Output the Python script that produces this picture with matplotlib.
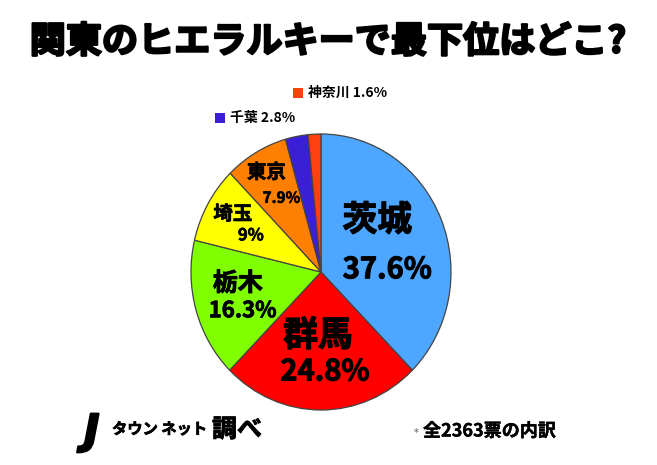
import numpy as np
import matplotlib
matplotlib.use('Agg')
from matplotlib import pyplot as plt
from matplotlib import patheffects
from matplotlib.patches import Rectangle

plt.rcParams['font.family'] = ['Noto Sans CJK JP', 'DejaVu Sans']

# Data (clockwise from 12 o'clock).
prefectures = ['茨城', '群馬', '栃木', '埼玉', '東京', '千葉', '神奈川']
shares = [37.6, 24.8, 16.3, 9.0, 7.9, 2.8, 1.6]
pct_labels = ['37.6%', '24.8%', '16.3%', '9%', '7.9%', '2.8%', '1.6%']
colors = ['#4da6ff', '#ff0000', '#80ff00', '#ffff00', '#ff8000', '#3a1fd6', '#ff4010']
title = '関東のヒエラルキーで最下位はどこ?'
total_note = '全2363票の内訳'
source = 'タウン ネット'

# Styling for in-wedge labels: radial distance, name size, pct size,
# name offset and pct offset in pixels.
label_style = [
    (0.51, 25, 21, (-5, 25), (5, -24)),
    (0.59, 25, 21, (-3, 18), (4, -18)),
    (0.65, 18, 16, (-2, 13), (3, -14)),
    (0.70, 14, 12, (-9, 10), (9, -11)),
    (0.73, 14, 11, (-7, 12), (8, -13)),
]


def thick(lw):
    # fake a heavier weight than the installed bold
    return [patheffects.withStroke(linewidth=lw, foreground='black')]


W, H = 657, 465
fig = plt.figure(figsize=(W / 100, H / 100), dpi=100)

# Pie is slightly taller than wide in the picture.
ax = fig.add_axes([191 / W, 55 / H, 260 / W, 276 / H])
wedges, _ = ax.pie(shares, colors=colors, startangle=90, counterclock=False,
                   wedgeprops=dict(edgecolor='#444444', linewidth=0.9))
ax.set_aspect('auto')
ax.set_xlim(-1, 1)
ax.set_ylim(-1, 1)
ax.axis('off')

for wedge, name, pct, style in zip(wedges, prefectures, pct_labels, label_style):
    r, name_size, pct_size, name_off, pct_off = style
    mid = np.deg2rad((wedge.theta1 + wedge.theta2) / 2)
    anchor = (r * np.cos(mid), r * np.sin(mid))
    ax.annotate(name, anchor, xytext=name_off, textcoords='offset pixels',
                ha='center', va='center', fontsize=name_size, fontweight='bold',
                path_effects=thick(name_size * 0.035))
    ax.annotate(pct, anchor, xytext=pct_off, textcoords='offset pixels',
                ha='center', va='center', fontsize=pct_size, fontweight='bold',
                path_effects=thick(pct_size * 0.035))

# Small wedges get a legend-style label above the pie.
for idx, (sx, sy) in zip([5, 6], [(215, 118), (293, 93)]):
    fig.add_artist(Rectangle((sx / W, 1 - (sy + 5) / H), 10 / W, 10 / H,
                             transform=fig.transFigure, facecolor=colors[idx],
                             edgecolor='none'))
    fig.text((sx + 15) / W, 1 - sy / H, prefectures[idx] + ' ' + pct_labels[idx],
             ha='left', va='center', fontsize=10, fontweight='bold')

fig.text(328 / W, 1 - 42 / H, title, ha='center', va='center',
         fontsize=26, fontweight='bold', path_effects=thick(1.6))

# Footer
fig.text(84 / W, 1 - 432 / H, 'J', ha='left', va='center', fontsize=30,
         fontweight='heavy', fontstyle='italic', family='DejaVu Sans',
         path_effects=thick(1.5))
fig.text(112 / W, 1 - 429 / H, source, ha='left', va='center', fontsize=11,
         fontweight='bold', path_effects=thick(0.5))
fig.text(212 / W, 1 - 430 / H, '調べ', ha='left', va='center', fontsize=18,
         fontweight='bold', path_effects=thick(0.6))
fig.text(414 / W, 1 - 433 / H, '*', ha='left', va='center', fontsize=7,
         color='#555555', family='DejaVu Sans')
fig.text(423 / W, 1 - 431 / H, total_note, ha='left', va='center', fontsize=13,
         fontweight='bold', path_effects=thick(0.3))

fig.savefig('out.png', dpi=100)
